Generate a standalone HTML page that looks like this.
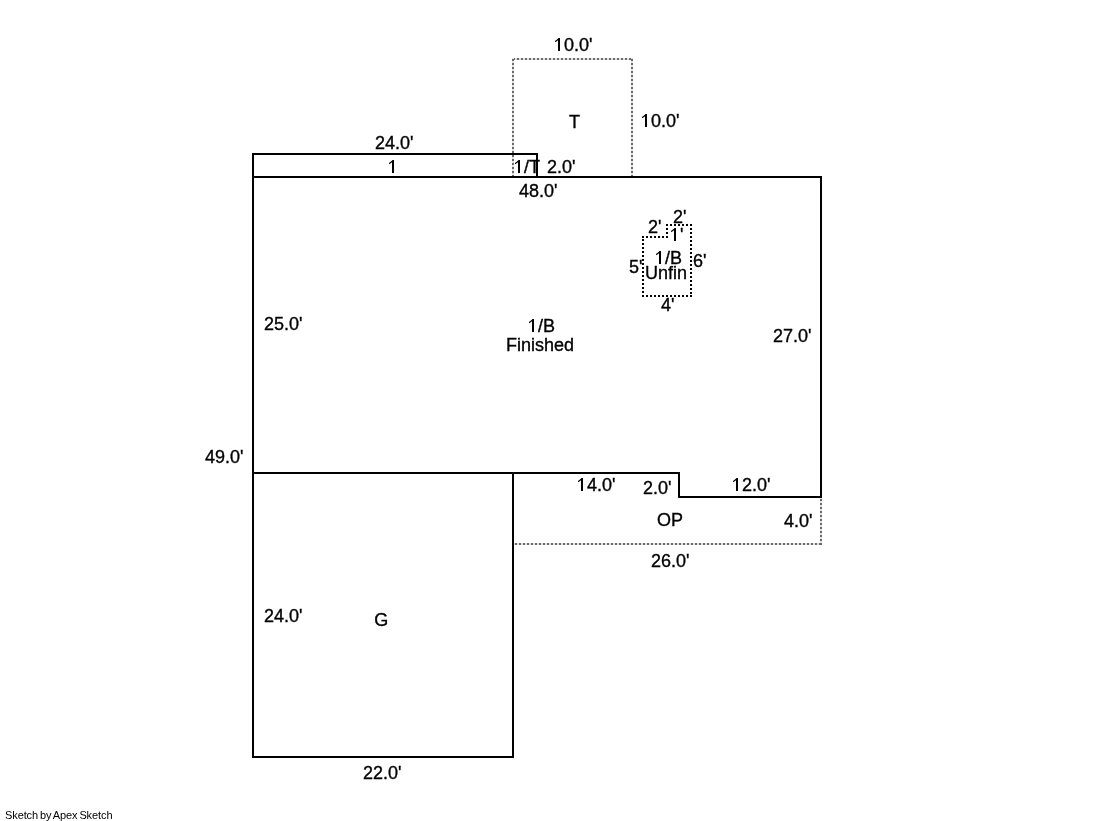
<!DOCTYPE html>
<html><head><meta charset="utf-8">
<style>
html,body{margin:0;padding:0;background:#fff;width:1119px;height:821px;overflow:hidden}
svg{position:absolute;left:0;top:0;will-change:transform}
text{font-family:"Liberation Sans",sans-serif;font-size:18px;fill:#000;stroke:#000;stroke-width:0.35px}
.h{fill:none;stroke:none}
.one{fill:#000}
</style></head>
<body>
<svg width="1119" height="821" viewBox="0 0 1119 821" shape-rendering="crispEdges">
<defs>
<pattern id="gh1" patternUnits="userSpaceOnUse" x="1" y="0" width="4" height="4"><rect x="0" y="0" width="4" height="4" fill="#e2e2e2"/><rect x="0" y="0" width="2" height="4" fill="#6a6a6a"/></pattern>
<pattern id="gv1" patternUnits="userSpaceOnUse" x="0" y="3" width="4" height="4"><rect x="0" y="0" width="4" height="4" fill="#e2e2e2"/><rect x="0" y="0" width="4" height="2" fill="#6a6a6a"/></pattern>
<pattern id="gh3" patternUnits="userSpaceOnUse" x="3" y="0" width="4" height="4"><rect x="0" y="0" width="4" height="4" fill="#e2e2e2"/><rect x="0" y="0" width="2" height="4" fill="#6a6a6a"/></pattern>
<pattern id="bh" patternUnits="userSpaceOnUse" x="2" y="0" width="4" height="4"><rect x="0" y="0" width="2" height="4" fill="#000"/></pattern>
<pattern id="bv" patternUnits="userSpaceOnUse" x="0" y="0" width="4" height="4"><rect x="0" y="0" width="4" height="2" fill="#000"/></pattern>
<pattern id="bv3" patternUnits="userSpaceOnUse" x="0" y="3" width="4" height="4"><rect x="0" y="0" width="4" height="2" fill="#000"/></pattern>
</defs>
<!-- dotted gray T -->
<rect x="512" y="58" width="121" height="2" fill="url(#gh1)"/>
<rect x="512" y="58" width="2" height="118" fill="url(#gv1)"/>
<rect x="631" y="58" width="2" height="118" fill="url(#gv1)"/>
<!-- dotted gray OP -->
<rect x="512" y="543" width="310" height="2" fill="url(#gh3)"/>
<rect x="820" y="498" width="2" height="47" fill="url(#gv1)"/>
<!-- unfin dotted black -->
<rect x="642" y="236" width="26" height="2" fill="url(#bh)"/>
<rect x="666" y="224" width="2" height="14" fill="url(#bv)"/>
<rect x="666" y="224" width="26" height="2" fill="url(#bh)"/>
<rect x="690" y="224" width="2" height="73" fill="url(#bv)"/>
<rect x="642" y="236" width="2" height="61" fill="url(#bv3)"/>
<rect x="642" y="295" width="50" height="2" fill="url(#bh)"/>
<!-- solid lines -->
<g fill="#000">
<rect x="252" y="153" width="286" height="2"/>
<rect x="536" y="153" width="2" height="25"/>
<rect x="252" y="176" width="570" height="2"/>
<rect x="820" y="176" width="2" height="322"/>
<rect x="678" y="496" width="144" height="2"/>
<rect x="678" y="472" width="2" height="26"/>
<rect x="252" y="472" width="428" height="2"/>
<rect x="512" y="472" width="2" height="286"/>
<rect x="252" y="756" width="262" height="2"/>
<rect x="252" y="153" width="2" height="605"/>
</g>
<g shape-rendering="auto">
<text x="554" y="51"><tspan class="h">1</tspan>0.0'</text><path class="one" transform="translate(554 51)" d="M6 0H4V-10.8Q3-9.7 1-8.8V-10.1Q3.2-11.3 4.6-13H6Z"/>
<text x="569" y="128">T</text>
<text x="641" y="127"><tspan class="h">1</tspan>0.0'</text><path class="one" transform="translate(641 127)" d="M6 0H4V-10.8Q3-9.7 1-8.8V-10.1Q3.2-11.3 4.6-13H6Z"/>
<text x="375" y="149">24.0'</text>
<text x="388" y="173"><tspan class="h">1</tspan></text><path class="one" transform="translate(388 173)" d="M6 0H4V-10.8Q3-9.7 1-8.8V-10.1Q3.2-11.3 4.6-13H6Z"/>
<text x="514" y="173"><tspan class="h">1</tspan>/T</text><path class="one" transform="translate(514 173)" d="M6 0H4V-10.8Q3-9.7 1-8.8V-10.1Q3.2-11.3 4.6-13H6Z"/>
<text x="547" y="173">2.0'</text>
<text x="519" y="197">48.0'</text>
<text x="673" y="223">2'</text>
<text x="648" y="233">2'</text>
<text x="670" y="241"><tspan class="h">1</tspan>'</text><path class="one" transform="translate(670 241)" d="M6 0H4V-10.8Q3-9.7 1-8.8V-10.1Q3.2-11.3 4.6-13H6Z"/>
<text x="655" y="264"><tspan class="h">1</tspan>/B</text><path class="one" transform="translate(655 264)" d="M6 0H4V-10.8Q3-9.7 1-8.8V-10.1Q3.2-11.3 4.6-13H6Z"/>
<text x="645" y="279">Unfin</text>
<text x="629" y="273">5'</text>
<text x="693" y="267">6'</text>
<text x="661" y="311">4'</text>
<text x="264" y="330">25.0'</text>
<text x="528" y="332"><tspan class="h">1</tspan>/B</text><path class="one" transform="translate(528 332)" d="M6 0H4V-10.8Q3-9.7 1-8.8V-10.1Q3.2-11.3 4.6-13H6Z"/>
<text x="506" y="351">Finished</text>
<text x="773" y="342">27.0'</text>
<text x="205" y="463">49.0'</text>
<text x="577" y="491"><tspan class="h">1</tspan>4.0'</text><path class="one" transform="translate(577 491)" d="M6 0H4V-10.8Q3-9.7 1-8.8V-10.1Q3.2-11.3 4.6-13H6Z"/>
<text x="643" y="494">2.0'</text>
<text x="732" y="491"><tspan class="h">1</tspan>2.0'</text><path class="one" transform="translate(732 491)" d="M6 0H4V-10.8Q3-9.7 1-8.8V-10.1Q3.2-11.3 4.6-13H6Z"/>
<text x="657" y="526">OP</text>
<text x="784" y="527">4.0'</text>
<text x="651" y="567">26.0'</text>
<text x="264" y="622">24.0'</text>
<text x="374.3" y="626">G</text>
<text x="363" y="779">22.0'</text>
<text x="5" y="819" style="font-size:11px;letter-spacing:-0.1px;word-spacing:-1px;stroke:none">Sketch by Apex Sketch</text>
</g>
</svg>
</body></html>
